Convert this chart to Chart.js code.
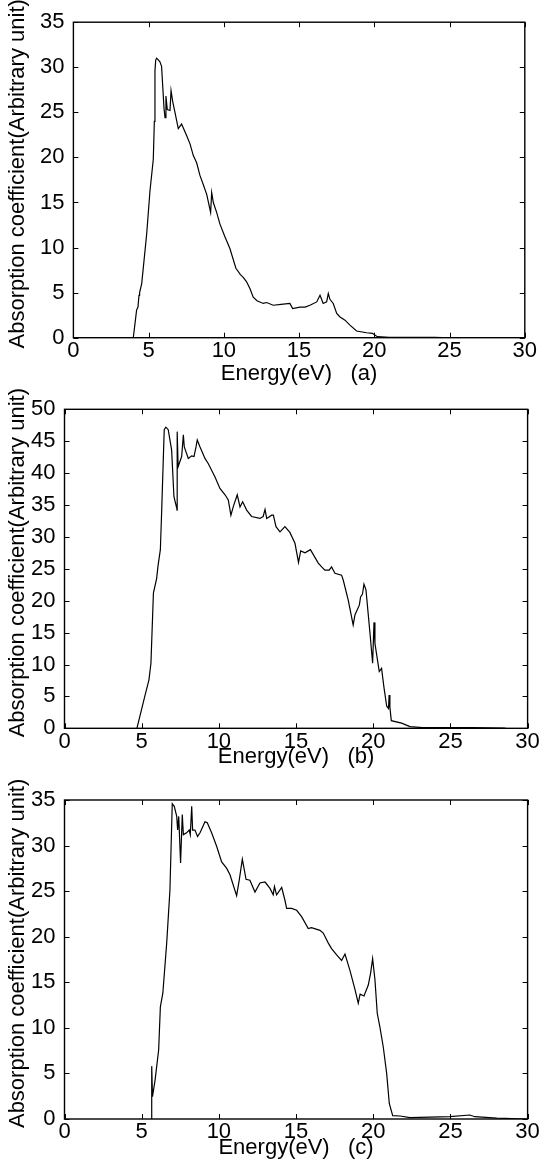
<!DOCTYPE html>
<html>
<head>
<meta charset="utf-8">
<script src="https://cdn.jsdelivr.net/npm/chart.js@4"></script>
<style>
  html, body { margin: 0; padding: 0; background: #fff; }
  body { position: relative; width: 540px; height: 1173px; overflow: hidden; }
  canvas { position: absolute; left: 0; }
</style>
</head>
<body>
<canvas id="chartA" width="540" height="392" style="top:0px"></canvas>
<canvas id="chartB" width="540" height="400" style="top:380px"></canvas>
<canvas id="chartC" width="540" height="403" style="top:770px"></canvas>
<script>
// Panel data: energy (eV) and absorption coefficient
const energyA = [3.98, 4.2, 4.29, 4.36, 4.4, 4.54, 4.87, 5.09, 5.31, 5.38, 5.42, 5.47, 5.53, 5.6, 5.75, 5.86, 6.02, 6.09, 6.15, 6.24, 6.42, 6.49, 6.6, 6.75, 6.97, 7.19, 7.53, 7.75, 7.97, 8.19, 8.41, 8.63, 8.86, 9.12, 9.19, 9.3, 9.52, 9.74, 10.07, 10.4, 10.8, 11.1, 11.29, 11.51, 11.73, 11.95, 12.2, 12.62, 12.84, 13.28, 13.8, 14.39, 14.57, 15.06, 15.4, 15.72, 16.17, 16.39, 16.6, 16.83, 16.94, 17.05, 17.27, 17.5, 17.72, 18.05, 18.38, 18.82, 19.49, 19.87, 20.2, 21, 24, 24.5];
const absorptionA = [0, 3.06, 3.4, 4.7, 5.0, 6.0, 11.5, 16.3, 19.8, 24, 29.6, 30.8, 31.0, 30.9, 30.6, 30.1, 25.5, 24.4, 26.8, 25.3, 25.2, 27.4, 26.2, 25.0, 23.2, 23.7, 22.4, 21.5, 20.2, 19.4, 18.0, 17.0, 15.9, 13.9, 16.1, 15.0, 13.9, 12.6, 11.2, 9.9, 7.7, 7.0, 6.7, 6.2, 5.45, 4.5, 4.1, 3.8, 3.9, 3.6, 3.7, 3.8, 3.24, 3.4, 3.4, 3.6, 3.97, 4.7, 3.8, 3.97, 4.9, 4.26, 3.8, 2.7, 2.3, 1.95, 1.4, 0.74, 0.55, 0.48, 0.11, 0.05, 0.03, 0];

const energyB = [4.69, 5.2, 5.47, 5.6, 5.76, 5.97, 6.05, 6.21, 6.29, 6.46, 6.57, 6.72, 6.94, 7.09, 7.27, 7.29, 7.3, 7.36, 7.59, 7.7, 7.76, 8.02, 8.24, 8.39, 8.52, 8.6, 8.78, 9.1, 9.31, 9.75, 10.07, 10.4, 10.61, 10.78, 10.93, 11.19, 11.37, 11.54, 11.8, 12.12, 12.66, 12.87, 12.99, 13.1, 13.42, 13.53, 13.7, 13.96, 14.28, 14.6, 14.93, 15.16, 15.3, 15.58, 15.93, 16.44, 16.66, 16.87, 17.15, 17.3, 17.52, 17.95, 18.06, 18.38, 18.7, 18.82, 19.1, 19.18, 19.3, 19.4, 19.53, 19.79, 19.96, 20.05, 20.11, 20.39, 20.54, 20.69, 20.87, 20.99, 21.03, 21.08, 21.17, 21.84, 22.38, 23.2, 26.48, 28.42, 28.6];
const absorptionB = [0, 5.0, 7.6, 10.2, 21.2, 23.5, 25.3, 28.0, 33.7, 46.8, 47.2, 46.8, 43.6, 36.3, 34.5, 34.2, 46.5, 41.0, 42.6, 46.0, 44.1, 42.3, 42.7, 42.6, 44.1, 45.2, 44.1, 42.3, 41.5, 39.4, 37.6, 36.6, 35.8, 33.4, 34.7, 36.6, 34.7, 35.5, 34.2, 33.2, 32.9, 33.2, 34.3, 32.9, 33.4, 33.4, 31.6, 30.8, 31.6, 30.7, 29.0, 26.0, 27.8, 27.5, 28.0, 25.9, 25.3, 24.8, 24.8, 25.3, 24.3, 24.0, 23.2, 20.1, 16.2, 17.8, 19.3, 20.6, 21.0, 22.6, 21.7, 14.9, 10.2, 16.6, 13.3, 8.9, 9.4, 6.5, 3.5, 3.1, 5.2, 3.3, 1.2, 0.8, 0.26, 0.1, 0.12, 0.05, 0];

const energyC = [5.64, 5.65, 5.7, 5.87, 6.1, 6.21, 6.37, 6.62, 6.83, 6.98, 7.11, 7.27, 7.33, 7.4, 7.52, 7.63, 7.7, 7.91, 8.08, 8.15, 8.24, 8.3, 8.45, 8.62, 8.78, 9.1, 9.25, 9.53, 9.86, 10.18, 10.51, 10.72, 11.15, 11.32, 11.52, 11.76, 12.01, 12.34, 12.66, 12.99, 13.31, 13.52, 13.6, 13.74, 14.07, 14.28, 14.39, 14.71, 15.04, 15.36, 15.79, 16.0, 16.55, 16.76, 17.09, 17.3, 17.63, 17.95, 18.17, 18.49, 18.82, 19.03, 19.15, 19.4, 19.68, 19.83, 19.96, 20.11, 20.26, 20.43, 20.65, 20.87, 21.04, 21.26, 21.74, 22.38, 24.97, 26.26, 26.58, 28.0, 30];
const absorptionC = [0, 5.8, 2.45, 4.3, 7.6, 12.3, 13.8, 19.3, 25.1, 34.6, 34.3, 33.2, 31.7, 33.2, 28.1, 33.4, 31.2, 31.4, 31.7, 31.2, 34.3, 31.7, 31.7, 31.0, 31.4, 32.6, 32.5, 31.4, 29.9, 28.2, 27.5, 26.8, 24.5, 26.2, 28.5, 26.3, 26.2, 24.9, 25.9, 26.0, 25.3, 24.6, 25.5, 24.6, 25.4, 24.0, 23.1, 23.1, 22.9, 22.2, 20.9, 21.0, 20.7, 20.4, 19.3, 18.7, 18.0, 17.4, 18.1, 16.3, 14.2, 12.7, 13.7, 13.5, 14.7, 16.0, 17.6, 15.3, 11.6, 10.1, 7.9, 5.0, 1.7, 0.36, 0.33, 0.15, 0.25, 0.44, 0.25, 0.1, 0];

// Tick labels
const xTicks = [0, 5, 10, 15, 20, 25, 30];
const yTicksA = [0, 5, 10, 15, 20, 25, 30, 35];
const yTicksB = [0, 5, 10, 15, 20, 25, 30, 35, 40, 45, 50];
const yTicksC = [0, 5, 10, 15, 20, 25, 30, 35];

const yTitle = '  Absorption coefficient(Arbitrary unit)';
const fontFamily = '"Liberation Sans", Arial, Helvetica, sans-serif';

// box around the plot area with ticks pointing inward on all four sides
const framePlugin = {
    id: 'frame',
    afterDraw(chart) {
        const {ctx, chartArea: a, scales} = chart;
        const len = 5;
        ctx.save();
        ctx.strokeStyle = '#000';
        ctx.lineWidth = 1.4;
        ctx.strokeRect(a.left, a.top, a.right - a.left, a.bottom - a.top);
        ctx.lineWidth = 1;
        ctx.beginPath();
        scales.x.ticks.forEach(t => {
            const px = Math.round(scales.x.getPixelForValue(t.value)) + 0.5;
            ctx.moveTo(px, a.bottom); ctx.lineTo(px, a.bottom - len);
            ctx.moveTo(px, a.top); ctx.lineTo(px, a.top + len);
        });
        scales.y.ticks.forEach(t => {
            const py = Math.round(scales.y.getPixelForValue(t.value)) + 0.5;
            ctx.moveTo(a.left, py); ctx.lineTo(a.left + len, py);
            ctx.moveTo(a.right, py); ctx.lineTo(a.right - len, py);
        });
        ctx.stroke();
        ctx.restore();
    }
};

function makeChart(id, energy, absorption, yTicks, xLabel, box) {
    const points = energy.map((e, i) => ({x: e, y: absorption[i]}));
    return new Chart(document.getElementById(id), {
        type: 'line',
        data: {
            datasets: [{
                data: points,
                borderColor: '#000',
                borderWidth: 1.2,
                pointRadius: 0,
                tension: 0,
                fill: false
            }]
        },
        options: {
            responsive: false,
            animation: false,
            devicePixelRatio: 1,
            layout: { padding: { top: box.top, right: box.right, left: 0, bottom: 0 } },
            plugins: { legend: { display: false }, tooltip: { enabled: false } },
            scales: {
                x: {
                    type: 'linear',
                    min: 0,
                    max: 30,
                    afterBuildTicks: s => { s.ticks = xTicks.map(v => ({value: v})); },
                    afterFit: s => { s.height = box.xHeight; },
                    grid: { display: false, drawTicks: false },
                    border: { display: false },
                    ticks: { color: '#000', padding: 0, maxRotation: 0, autoSkip: false, font: { family: fontFamily, size: 22 } },
                    title: {
                        display: true,
                        text: xLabel,
                        color: '#000',
                        font: { family: fontFamily, size: 22 },
                        padding: { top: 0, bottom: box.titleBottom }
                    }
                },
                y: {
                    type: 'linear',
                    min: yTicks[0],
                    max: yTicks[yTicks.length - 1],
                    afterBuildTicks: s => { s.ticks = yTicks.map(v => ({value: v})); },
                    afterFit: s => { s.width = box.left; },
                    grid: { display: false, drawTicks: false },
                    border: { display: false },
                    ticks: { color: '#000', padding: 9, autoSkip: false, font: { family: fontFamily, size: 22 } },
                    title: {
                        display: true,
                        text: yTitle,
                        color: '#000',
                        font: { family: fontFamily, size: 22 },
                        padding: { top: 5, bottom: 0 }
                    }
                }
            }
        },
        plugins: [framePlugin]
    });
}

makeChart('chartA', energyA, absorptionA, yTicksA, 'Energy(eV)   (a)',
    { top: 20.7, right: 15.2, left: 73.4, xHeight: 54.3, titleBottom: 4.8 });
makeChart('chartB', energyB, absorptionB, yTicksB, 'Energy(eV)   (b)',
    { top: 29.3, right: 12.4, left: 64.5, xHeight: 51.7, titleBottom: 9.8 });
makeChart('chartC', energyC, absorptionC, yTicksC, 'Energy(eV)   (c)',
    { top: 30, right: 12.4, left: 64.5, xHeight: 54, titleBottom: 11.8 });
</script>
</body>
</html>
